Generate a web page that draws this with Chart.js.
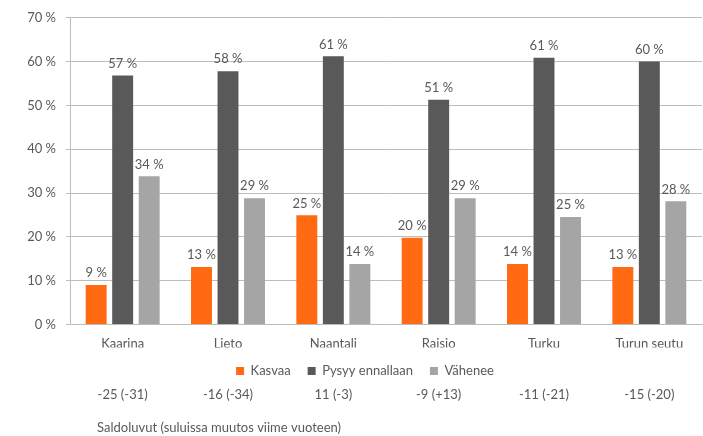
<!DOCTYPE html>
<html><head><meta charset="utf-8">
<script src="https://cdn.jsdelivr.net/npm/chart.js@4"></script>
<style>html,body{margin:0;padding:0;background:#fff}#w{width:703px;height:436px}</style>
</head><body><div id="w"><canvas id="c"></canvas></div>
<script>
const categories = ['Kaarina','Lieto','Naantali','Raisio','Turku','Turun seutu'];
const saldoLabels = ['-25 (-31)','-16 (-34)','11 (-3)','-9 (+13)','-11 (-21)','-15 (-20)'];
const kasvaa = [9.0, 13.1, 24.9, 19.8, 13.8, 13.1];
const pysyy = [56.8, 57.8, 61.2, 51.3, 60.9, 60.0];
const vahenee = [33.8, 28.8, 13.8, 28.8, 24.5, 28.1];
const seriesNames = ['Kasvaa','Pysyy ennallaan','Vähenee'];
const caption = 'Saldoluvut (suluissa muutos viime vuoteen)';

const FONT = 'Lato, "Open Sans", sans-serif';
const FS = 13;
const TXT = '#595959';
const GRID = '#BDBDBD';

const labelPlugin = {
  id: 'valueLabels',
  afterLayout(chart) {
    chart.titleBlock.left += 27;
    chart.titleBlock.right += 27;
    chart.legend.left += 14;
    chart.legend.right += 14;
  },
  afterDatasetsDraw(chart) {
    const ctx = chart.ctx;
    ctx.save();
    ctx.font = FS + 'px ' + FONT;
    ctx.fillStyle = TXT;
    ctx.textAlign = 'center';
    ctx.textBaseline = 'middle';
    chart.data.datasets.forEach((ds, i) => {
      chart.getDatasetMeta(i).data.forEach((el, j) => {
        ctx.fillText(Math.round(ds.data[j]) + ' %', el.x, el.y - 12);
      });
    });
    ctx.restore();
  }
};

new Chart(document.getElementById('c'), {
  type: 'bar',
  data: {
    labels: categories,
    datasets: [
      {label: seriesNames[0], data: kasvaa, backgroundColor: '#FF6A13'},
      {label: seriesNames[1], data: pysyy, backgroundColor: '#595959'},
      {label: seriesNames[2], data: vahenee, backgroundColor: '#A5A5A5'}
    ]
  },
  options: {
    responsive: true,
    maintainAspectRatio: false,
    animation: false,
    events: [],
    layout: {padding: {top: 7, right: 1, left: 0, bottom: 0}},
    datasets: {bar: {categoryPercentage: 0.755, barPercentage: 0.79}},
    plugins: {
      tooltip: {enabled: false},
      legend: {
        position: 'bottom',
        labels: {
          boxWidth: 8, boxHeight: 8, padding: 17,
          color: TXT, font: {family: FONT, size: FS}
        }
      },
      title: {
        display: true, text: caption, position: 'bottom', align: 'start',
        fullSize: false, color: TXT, font: {family: FONT, size: FS, weight: 'normal'},
        padding: {top: 18, bottom: 0}
      }
    },
    scales: {
      x: {
        grid: {display: false, drawTicks: false},
        border: {color: GRID},
        ticks: {color: TXT, font: {family: FONT, size: FS}, padding: 12},
        afterFit: s => { s.height = 23; }
      },
      x2: {
        type: 'category',
        labels: saldoLabels,
        position: 'bottom',
        weight: 1500,
        grid: {display: false, drawTicks: false},
        border: {display: false},
        ticks: {color: TXT, font: {family: FONT, size: FS}, padding: 0},
        afterFit: s => { s.height = 15; }
      },
      y: {
        min: 0, max: 70,
        ticks: {stepSize: 10, color: TXT, font: {family: FONT, size: FS}, padding: 10,
          callback: v => v + ' %'},
        grid: {color: GRID, tickLength: 4, lineWidth: 1},
        border: {color: GRID},
        afterFit: s => { s.width = 70; }
      }
    }
  },
  plugins: [labelPlugin]
});
</script></body></html>
